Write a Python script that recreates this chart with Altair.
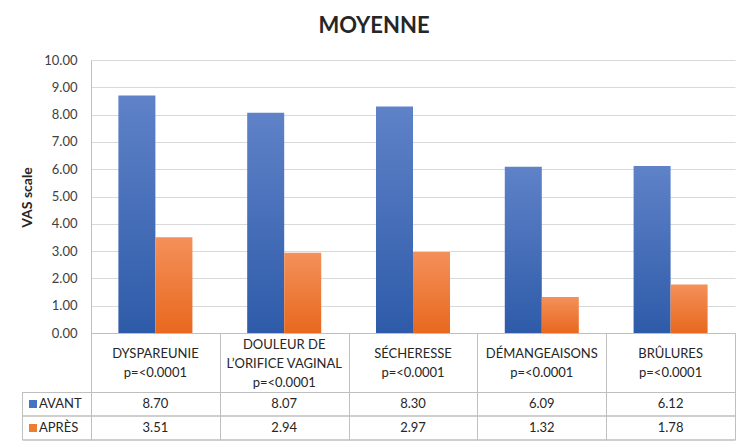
import altair as alt
import pandas as pd

# ---- data ----
categories = ["DYSPAREUNIE", "DOULEUR DE L’ORIFICE VAGINAL", "SÉCHERESSE", "DÉMANGEAISONS", "BRÛLURES"]
category_labels = ["DYSPAREUNIE", "DOULEUR DE\nL’ORIFICE VAGINAL", "SÉCHERESSE", "DÉMANGEAISONS", "BRÛLURES"]
p_values = ["p=<0.0001", "p=<0.0001", "p=<0.0001", "p=<0.0001", "p=<0.0001"]
series = ["AVANT", "APRÈS"]
avant = [8.70, 8.07, 8.30, 6.09, 6.12]
apres = [3.51, 2.94, 2.97, 1.32, 1.78]
y_ticks = [0, 1, 2, 3, 4, 5, 6, 7, 8, 9, 10]

rows = []
for c, a, b in zip(categories, avant, apres):
    rows.append({"category": c, "series": "AVANT", "value": a})
    rows.append({"category": c, "series": "APRÈS", "value": b})
bars_df = pd.DataFrame(rows)
labels_df = pd.DataFrame({
    "category": categories,
    "label": [l + "\n" + p for l, p in zip(category_labels, p_values)],
})
series_df = pd.DataFrame({"series": series})
title_df = pd.DataFrame({"title": ["MOYENNE"]})

FONT = "Lato"
GRID = "#d9d9d9"
LINE = "#bfbfbf"
TEXT = "#262626"

blue_grad = alt.Gradient(
    gradient="linear", x1=0, x2=0, y1=0, y2=1,
    stops=[alt.GradientStop(color="#5f82c8", offset=0),
           alt.GradientStop(color="#2e5ba9", offset=1)],
)
orange_grad = alt.Gradient(
    gradient="linear", x1=0, x2=0, y1=0, y2=1,
    stops=[alt.GradientStop(color="#f4905a", offset=0),
           alt.GradientStop(color="#e8681e", offset=1)],
)
legend_colors = {"AVANT": "#4472c4", "APRÈS": "#ed7d31"}

x_axis = alt.Axis(title=None, labels=False, ticks=True, tickBand="extent",
                  tickSize=107, tickColor=LINE, tickWidth=1,
                  domainColor=LINE, domainWidth=1, grid=False)
x_scale = alt.Scale(domain=categories, paddingInner=0, paddingOuter=0)
x_enc = alt.X("category:N", sort=categories, scale=x_scale, axis=x_axis)

y_axis = alt.Axis(values=y_ticks, tickCount=30, labelOverlap=False,
                  format=".2f", title="VAS scale",
                  grid=True, gridColor=GRID, gridWidth=1,
                  domain=True, domainColor=LINE, ticks=False,
                  labelPadding=14, labelFontSize=13, labelColor="#404040",
                  labelFont=FONT,
                  titleFont=FONT, titleFontSize=14, titleFontWeight="bold",
                  titleColor=TEXT, titleX=-64, titleY=137,
                  titleAlign="center", titleBaseline="middle", titleAngle=-90)
y_scale = alt.Scale(domain=[0, 10], nice=False)
y_enc = alt.Y("value:Q", scale=y_scale, axis=y_axis)

xoff = alt.XOffset("series:N", sort=series,
                   scale=alt.Scale(domain=series, paddingInner=0, paddingOuter=0.74))

bars_avant = alt.Chart(bars_df).transform_filter(
    alt.datum.series == "AVANT").mark_bar(color=blue_grad).encode(
    x=x_enc, y=y_enc, xOffset=xoff)
bars_apres = alt.Chart(bars_df).transform_filter(
    alt.datum.series == "APRÈS").mark_bar(color=orange_grad).encode(
    x=x_enc, y=y_enc, xOffset=xoff)

layers = [bars_avant, bars_apres]

# category labels in the table's first row (vertically centred blocks)
for n_lines, y0 in [(2, 293.5), (3, 285)]:
    layers.append(
        alt.Chart(labels_df)
        .transform_filter(f"length(split(datum.label, '\\n')) == {n_lines}")
        .mark_text(font=FONT, fontSize=13, color=TEXT, lineBreak="\n",
                   lineHeight=19, baseline="middle", align="center")
        .encode(x=x_enc, y=alt.value(y0), text="label:N")
    )

row_y = {"AVANT": 344, "APRÈS": 368}
for s in series:
    layers.append(
        alt.Chart(bars_df).transform_filter(alt.datum.series == s).mark_text(
            font=FONT, fontSize=13, color=TEXT, baseline="middle", align="center"
        ).encode(x=x_enc, y=alt.value(row_y[s]), text=alt.Text("value:Q", format=".2f"))
    )
    sdf = series_df[series_df["series"] == s]
    layers.append(
        alt.Chart(sdf).mark_square(size=64, color=legend_colors[s], opacity=1).encode(
            x=alt.value(-58), y=alt.value(row_y[s]))
    )
    layers.append(
        alt.Chart(sdf).mark_text(font=FONT, fontSize=13, color=TEXT,
                                 baseline="middle", align="left").encode(
            x=alt.value(-52), y=alt.value(row_y[s]), text="series:N")
    )

# table grid lines
for yy in [332.5, 356, 380]:
    layers.append(
        alt.Chart(series_df).mark_rule(color=LINE, strokeWidth=1).encode(
            x=alt.value(-68.5), x2=alt.value(644), y=alt.value(yy))
    )
layers.append(
    alt.Chart(series_df).mark_rule(color=LINE, strokeWidth=1).encode(
        x=alt.value(-68.5), y=alt.value(332.5), y2=alt.value(380))
)

title = alt.Chart(title_df).mark_text(
    font=FONT, fontSize=22, fontWeight="bold", color=TEXT,
    baseline="middle", align="center").encode(
    x=alt.value(283), y=alt.value(-34), text="title:N")
layers.append(title)

chart = alt.layer(*layers).properties(
    width=644, height=273,
    autosize=alt.AutoSizeParams(type="none"),
    padding={"left": 91, "top": 60, "right": 14, "bottom": 111},
    background="white",
).configure_view(stroke=None)

chart.save("out.html", embed_options={"renderer": "svg", "actions": False})
